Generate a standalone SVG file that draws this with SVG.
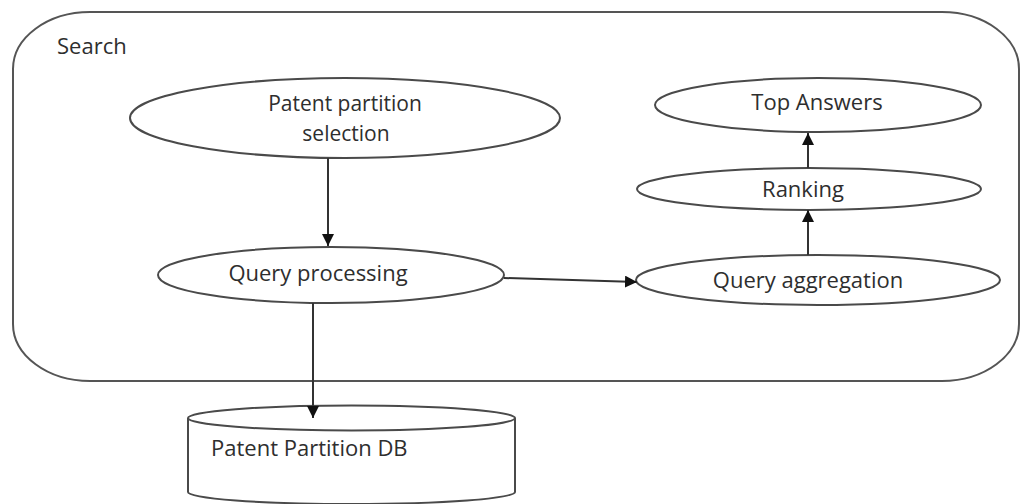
<svg xmlns="http://www.w3.org/2000/svg" width="1020" height="504" viewBox="0 0 1020 504">
  <style>
    .shape { fill: #ffffff; stroke: #4a4a4a; stroke-width: 2; }
    .frame { fill: none; stroke: #555555; stroke-width: 2; }
    .lbl { font-family: "Open Sans", "DejaVu Sans", sans-serif; font-size: 22px; fill: #2e2e2e; }
    .two { font-size: 21px; }
    .mid { text-anchor: middle; }
    .conn { fill: none; stroke: #333333; stroke-width: 2; }
  </style>
  <defs>
    <marker id="arrow" viewBox="0 0 12 12" refX="12" refY="6" markerWidth="12" markerHeight="12" markerUnits="userSpaceOnUse" orient="auto">
      <path d="M0,0 L12,6 L0,12 Z" fill="#111111"/>
    </marker>
  </defs>
  <rect width="1020" height="504" fill="#ffffff"/>

  <g id="search">
    <rect class="frame" x="13" y="12" width="1006" height="369" rx="77" ry="57"/>
    <text class="lbl" x="57" y="54">Search</text>
  </g>

  <g id="patent-partition-selection">
    <ellipse class="shape" cx="345" cy="118" rx="215" ry="40"/>
    <text class="lbl two mid" x="345" y="111">Patent partition</text>
    <text class="lbl two mid" x="346" y="141">selection</text>
  </g>

  <g id="query-processing">
    <ellipse class="shape" cx="331" cy="275" rx="173" ry="28"/>
    <text class="lbl mid" x="318" y="281">Query processing</text>
  </g>

  <g id="query-aggregation">
    <ellipse class="shape" cx="818" cy="280" rx="182" ry="25"/>
    <text class="lbl mid" x="808" y="288">Query aggregation</text>
  </g>

  <g id="ranking">
    <ellipse class="shape" cx="809" cy="189" rx="172" ry="21"/>
    <text class="lbl mid" x="803" y="197">Ranking</text>
  </g>

  <g id="top-answers">
    <ellipse class="shape" cx="818" cy="105" rx="163" ry="27"/>
    <text class="lbl mid" x="817" y="110">Top Answers</text>
  </g>

  <g id="patent-partition-db">
    <path class="shape" d="M188,418 V492 A163.5,12 0 0 0 515,492 V418"/>
    <ellipse class="shape" cx="351.5" cy="418" rx="163.5" ry="12.5"/>
    <text class="lbl" x="211" y="456">Patent Partition DB</text>
  </g>

  <g id="connectors">
    <line class="conn" x1="328" y1="158" x2="328" y2="246" marker-end="url(#arrow)"/>
    <line class="conn" x1="504" y1="278" x2="637" y2="282" marker-end="url(#arrow)"/>
    <line class="conn" x1="808" y1="255" x2="808" y2="210" marker-end="url(#arrow)"/>
    <line class="conn" x1="808" y1="168" x2="808" y2="133" marker-end="url(#arrow)"/>
    <line class="conn" x1="313" y1="303" x2="313" y2="418" marker-end="url(#arrow)"/>
  </g>
</svg>
